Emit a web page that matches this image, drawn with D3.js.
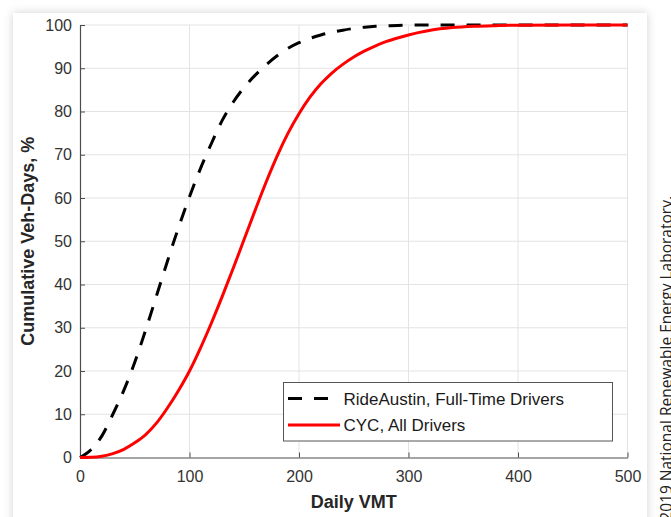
<!DOCTYPE html>
<html>
  <head>
    <meta charset="utf-8"/>
    <script src="https://cdn.jsdelivr.net/npm/d3@7"></script>
    <style type="text/css">

html, body {
  margin: 0;
  padding: 0;
  background: #fff;
  overflow: hidden;
}

svg {
  display: block;
  font-family: "Liberation Sans", Arial, sans-serif;
}

.axis path, .axis line {
  stroke: #4d4d4d;
}

.axis text {
  fill: #333;
  font-size: 16px;
}

.grid line {
  stroke: #e3e3e3;
  stroke-width: 1;
}

    </style>
  </head>
  <body>
    <svg id="chart" width="671" height="517"></svg>
    <script type="text/javascript">

// Daily VMT (miles) sampled along both curves
var vmt = [0, 10, 20, 30, 40, 50, 60, 70, 80, 90, 100, 110, 120, 130, 140, 150,
           160, 170, 180, 190, 200, 210, 220, 230, 240, 250, 260, 270, 280, 290,
           300, 310, 320, 340, 360, 380, 400, 450, 500];

// cumulative share of vehicle-days, %
var rideAustin = [0, 1.8, 5.0, 10.0, 15.5, 22.0, 29.5, 37.5, 45.5, 53.2, 60.3, 66.8, 72.6, 78.0, 82.2, 85.6,
                  88.4, 90.8, 92.9, 94.6, 95.9, 96.9, 97.7, 98.3, 98.8, 99.2, 99.5, 99.7, 99.8, 99.9,
                  99.95, 100, 100, 100, 100, 100, 100, 100, 100];

var cyc = [0, 0.05, 0.3, 0.9, 1.9, 3.4, 5.3, 8.0, 11.5, 15.5, 20.0, 25.3, 31.1, 37.3, 43.8, 50.5,
           57.2, 63.7, 69.7, 75.0, 79.5, 83.3, 86.4, 88.9, 90.9, 92.6, 94.0, 95.2, 96.2, 97.0,
           97.7, 98.3, 98.8, 99.4, 99.7, 99.85, 99.95, 100, 100];

var xTicks = [0, 100, 200, 300, 400, 500];
var yTicks = [0, 10, 20, 30, 40, 50, 60, 70, 80, 90, 100];

var series = [
  {name: "RideAustin, Full-Time Drivers", values: rideAustin, color: "#000", dash: "14,12"},
  {name: "CYC, All Drivers", values: cyc, color: "#ff0000", dash: null}
];

var svg = d3.select("#chart");

var plotLeft = 80, plotRight = 627.5, plotTop = 25, plotBottom = 457.5;

var x = d3.scaleLinear().domain([0, 500]).range([plotLeft, plotRight]);
var y = d3.scaleLinear().domain([0, 100]).range([plotBottom, plotTop]);

// card with soft shadow
var defs = svg.append("defs");
var shadow = defs.append("filter").attr("id", "shadow")
    .attr("x", "-10%").attr("y", "-10%").attr("width", "120%").attr("height", "120%");
shadow.append("feDropShadow")
    .attr("dx", 0).attr("dy", 0).attr("stdDeviation", 5)
    .attr("flood-color", "#000").attr("flood-opacity", 0.18);

svg.append("rect")
    .attr("x", 13).attr("y", 13)
    .attr("width", 634).attr("height", 540)
    .attr("fill", "#fff")
    .attr("filter", "url(#shadow)");

// grid
var grid = svg.append("g").attr("class", "grid");
grid.selectAll(".gx").data(xTicks.slice(1)).enter().append("line")
    .attr("x1", function(d) { return x(d); })
    .attr("x2", function(d) { return x(d); })
    .attr("y1", plotTop).attr("y2", plotBottom);
grid.selectAll(".gy").data(yTicks.slice(1)).enter().append("line")
    .attr("x1", plotLeft).attr("x2", plotRight)
    .attr("y1", function(d) { return y(d); })
    .attr("y2", function(d) { return y(d); });

// axes, ticks pointing inward like MATLAB
svg.append("g")
    .attr("class", "axis")
    .attr("transform", "translate(0," + plotBottom + ")")
    .call(d3.axisBottom(x).tickValues(xTicks).tickSize(-5).tickPadding(13).tickSizeOuter(0));

svg.append("g")
    .attr("class", "axis")
    .attr("transform", "translate(" + plotLeft + ",0)")
    .call(d3.axisLeft(y).tickValues(yTicks).tickSize(-5).tickPadding(8).tickSizeOuter(0));

svg.selectAll(".axis .domain").attr("stroke-width", 1.2);

// curves
var line = d3.line()
    .x(function(d, i) { return x(vmt[i]); })
    .y(function(d) { return y(d); })
    .curve(d3.curveMonotoneX);

svg.selectAll(".curve").data(series).enter().append("path")
    .attr("class", "curve")
    .attr("d", function(d) { return line(d.values); })
    .attr("fill", "none")
    .attr("stroke", function(d) { return d.color; })
    .attr("stroke-width", 3)
    .attr("stroke-dasharray", function(d) { return d.dash; });

// axis titles
svg.append("text")
    .attr("x", (plotLeft + plotRight) / 2)
    .attr("y", 508)
    .attr("text-anchor", "middle")
    .attr("font-size", 18)
    .attr("font-weight", "bold")
    .attr("fill", "#262626")
    .text("Daily VMT");

svg.append("text")
    .attr("transform", "translate(34," + ((plotTop + plotBottom) / 2) + ") rotate(-90)")
    .attr("text-anchor", "middle")
    .attr("font-size", 18)
    .attr("font-weight", "bold")
    .attr("fill", "#262626")
    .text("Cumulative Veh-Days, %");

// legend
var legend = svg.append("g").attr("transform", "translate(283.5,382.5)");
legend.append("rect")
    .attr("width", 329).attr("height", 58.5)
    .attr("fill", "#fff")
    .attr("stroke", "#555")
    .attr("stroke-width", 1);

var entry = legend.selectAll(".entry").data(series).enter().append("g")
    .attr("transform", function(d, i) { return "translate(0," + (16 + i * 26.5) + ")"; });
entry.append("line")
    .attr("x1", 4.5).attr("x2", 56.5)
    .attr("stroke", function(d) { return d.color; })
    .attr("stroke-width", 3)
    .attr("stroke-dasharray", function(d) { return d.dash; });
entry.append("text")
    .attr("x", 60)
    .attr("dy", "0.36em")
    .attr("font-size", 17)
    .attr("fill", "#1a1a1a")
    .text(function(d) { return d.name; });

// credit along the right edge
svg.append("text")
    .attr("transform", "translate(672,196) rotate(-90)")
    .attr("text-anchor", "end")
    .attr("font-family", "'Open Sans', 'Noto Sans', sans-serif")
    .attr("font-size", 15.5)
    .attr("fill", "#222")
    .text("©2019 National Renewable Energy Laboratory.");

    </script>
  </body>
</html>
